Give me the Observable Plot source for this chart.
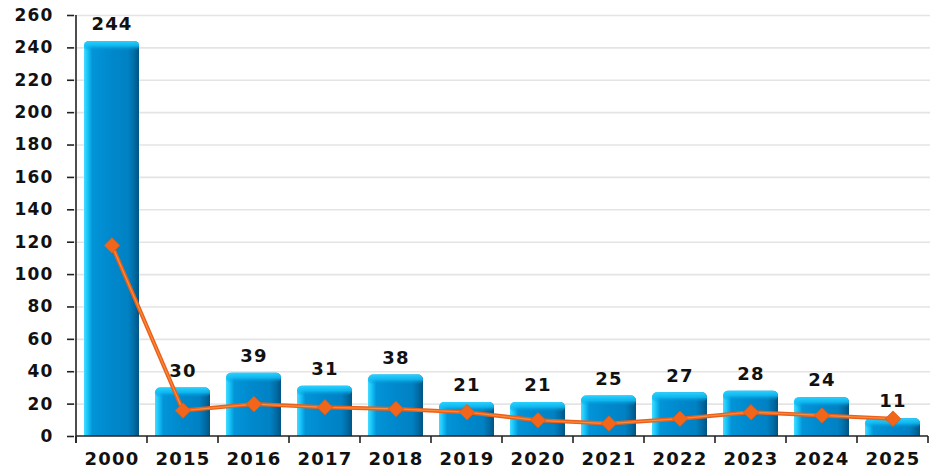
<!DOCTYPE html>
<html>
<head>
<meta charset="utf-8">
<script src="https://cdn.jsdelivr.net/npm/d3@7"></script>
<script src="https://cdn.jsdelivr.net/npm/@observablehq/plot@0.6"></script>
<style>
  html, body { margin: 0; padding: 0; background: #fff; }
  #chart svg { display: block; }
</style>
</head>
<body>
<div id="chart"></div>
<script>
const years = ["2000","2015","2016","2017","2018","2019","2020","2021","2022","2023","2024","2025"];
const counts = [244, 30, 39, 31, 38, 21, 21, 25, 27, 28, 24, 11];
const trend = [118, 16, 20, 18, 17, 15, 10, 8, 11, 15, 13, 11];
const yTicks = [0,20,40,60,80,100,120,140,160,180,200,220,240,260];

const data = years.map((y, i) => ({year: y, count: counts[i], trend: trend[i]}));

const font = "'DejaVu Sans', Verdana, sans-serif";

// axis line + tick marks at band boundaries, drawn via the scales
function boundaryAxis(index, scales, values, dims) {
  const x = scales.x, y = scales.y;
  const g = d3.create("svg:g").attr("stroke", "#222").attr("stroke-width", 1.6);
  const y0 = y(0);
  const step = x.step(), bw = x.bandwidth();
  const xs = years.map(d => x(d) - (step - bw) / 2);
  xs.push(x(years[years.length - 1]) + bw + (step - bw) / 2);
  g.append("line").attr("x1", xs[0]).attr("x2", xs[0]).attr("y1", y(260)).attr("y2", y0 + 7);
  g.append("line").attr("x1", xs[0]).attr("x2", xs[xs.length-1]).attr("y1", y0).attr("y2", y0);
  for (const bx of xs) g.append("line").attr("x1", bx).attr("x2", bx).attr("y1", y0).attr("y2", y0 + 7);
  return g.node();
}

const chart = Plot.plot({
  width: 930,
  height: 471,
  marginLeft: 74,
  marginRight: 0,
  marginTop: 15,
  marginBottom: 35,
  style: {fontFamily: font, fontWeight: "bold", color: "#111", background: "#fff"},
  x: {domain: years, paddingInner: 0.23, paddingOuter: 0.115, label: null},
  y: {domain: [0, 260], label: null},
  marks: [
    Plot.gridY(yTicks.filter(d => d > 0), {stroke: "#e4e4e4", strokeOpacity: 1, strokeWidth: 1.6}),
    Plot.barY(data, {x: "year", y: "count", fill: "url(#barGrad)", rx: 5, insetBottom: -6, clip: true}),
    Plot.barY(data, {x: "year", y1: "count", y2: "count", fill: "url(#bevelGrad)", rx: 5, insetBottom: -10}),
    Plot.axisY({ticks: yTicks, tickSize: 7, tickPadding: 14, fontSize: 17, fontWeight: "bold", stroke: "#222", strokeWidth: 1.6, label: null}),
    Plot.axisX({tickSize: 0, tickPadding: 16, fontSize: 18, fontWeight: "bold", label: null}),
    boundaryAxis,
    Plot.text(data, {x: "year", y: "count", text: d => String(d.count), dy: -17, fontSize: 18, fontWeight: "bold", fill: "#111"}),
    Plot.line(data, {x: "year", y: "trend", stroke: "#e8601a", strokeWidth: 4}),
    Plot.line(data, {x: "year", y: "trend", stroke: "#ff8a3a", strokeWidth: 1.2}),
    Plot.dot(data, {x: "year", y: "trend", symbol: "diamond2", r: 7, fill: "#f2661c", stroke: "#e05a12", strokeWidth: 0.8})
  ]
});

const defs = d3.select(chart).insert("defs", ":first-child");
const g1 = defs.append("linearGradient").attr("id", "barGrad").attr("x1", 0).attr("x2", 1).attr("y1", 0).attr("y2", 0);
[[0, "#45dcff"], [0.07, "#14c2f8"], [0.15, "#0394d8"], [0.5, "#0088cc"], [0.8, "#0082c4"], [0.9, "#006ea8"], [1, "#005584"]]
  .forEach(([o, c]) => g1.append("stop").attr("offset", o).attr("stop-color", c));
const g2 = defs.append("linearGradient").attr("id", "bevelGrad").attr("x1", 0).attr("x2", 0).attr("y1", 0).attr("y2", 1);
[[0, "#2ad2ff", 1], [0.5, "#12bdf4", 0.85], [1, "#0090d0", 0]]
  .forEach(([o, c, a]) => g2.append("stop").attr("offset", o).attr("stop-color", c).attr("stop-opacity", a));

d3.select(chart).selectAll("text").attr("letter-spacing", "1.2px");

document.getElementById("chart").appendChild(chart);
</script>
</body>
</html>
